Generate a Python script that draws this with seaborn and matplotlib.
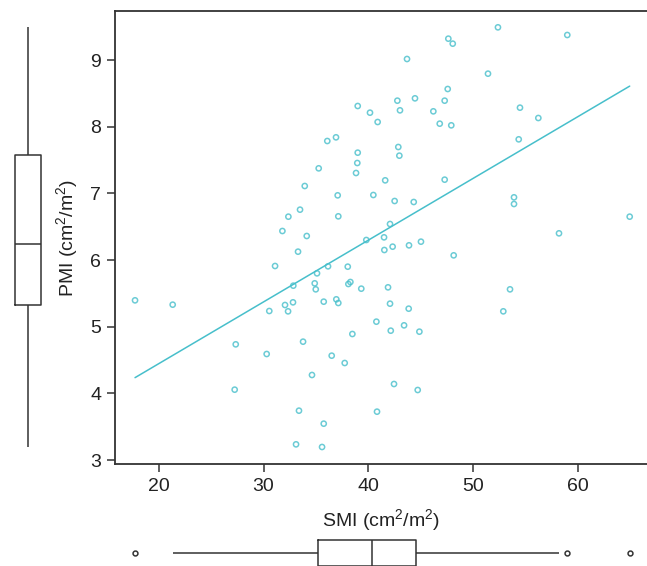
import numpy as np
import pandas as pd
import matplotlib
matplotlib.use("Agg")
import matplotlib.pyplot as plt
import seaborn as sns

smi = [38.98, 40.15, 40.88, 36.08, 36.91, 38.98, 38.94, 38.82, 35.26, 41.6,
       33.93, 37.07, 40.47, 33.48, 32.37, 37.13, 31.8, 34.12, 52.35, 47.62,
       48.04, 58.96, 43.68, 51.4, 47.56, 42.76, 44.44, 47.27, 43.01, 46.19,
       54.45, 56.2, 46.8, 47.9, 54.33, 42.85, 42.95, 47.27, 42.5, 44.32,
       53.88, 53.88, 42.06, 64.91, 58.17, 41.49, 33.29, 31.1, 39.8, 41.52,
       35.1, 36.15, 38.03, 34.88, 34.98, 32.84, 38.09, 38.28, 39.32, 17.75,
       21.34, 30.55, 32.05, 32.34, 32.81, 35.74, 36.94, 37.13, 40.76, 38.47,
       27.35, 33.77, 30.3, 36.5, 37.74, 34.62, 27.25, 33.38, 40.82, 35.74,
       33.1, 35.58, 42.31, 43.87, 45.01, 48.13, 41.87, 53.5, 42.06, 43.84,
       52.86, 42.13, 43.4, 44.86, 42.44, 44.7]
pmi = [8.31, 8.21, 8.07, 7.785, 7.84, 7.61, 7.455, 7.305, 7.375, 7.195,
       7.11, 6.97, 6.975, 6.755, 6.65, 6.655, 6.435, 6.36, 9.49, 9.32,
       9.245, 9.375, 9.015, 8.795, 8.565, 8.39, 8.425, 8.39, 8.245, 8.23,
       8.285, 8.13, 8.045, 8.02, 7.81, 7.695, 7.565, 7.205, 6.885, 6.87,
       6.94, 6.84, 6.54, 6.65, 6.4, 6.34, 6.125, 5.91, 6.3, 6.15,
       5.8, 5.905, 5.9, 5.65, 5.56, 5.615, 5.64, 5.67, 5.57, 5.395,
       5.33, 5.235, 5.325, 5.23, 5.365, 5.375, 5.41, 5.355, 5.075, 4.89,
       4.735, 4.775, 4.59, 4.565, 4.455, 4.275, 4.055, 3.74, 3.725, 3.545,
       3.235, 3.195, 6.2, 6.22, 6.275, 6.07, 5.59, 5.56, 5.345, 5.27,
       5.23, 4.94, 5.02, 4.925, 4.14, 4.05]

x_ticks = [20, 30, 40, 50, 60]
y_ticks = [3, 4, 5, 6, 7, 8, 9]
x_label = "SMI (cm$^2$/m$^2$)"
y_label = "PMI (cm$^2$/m$^2$)"

df = pd.DataFrame({"SMI": smi, "PMI": pmi})

sns.set_style("ticks")
plt.rcParams["font.family"] = ["Liberation Sans", "DejaVu Sans"]
plt.rcParams["mathtext.fontset"] = "custom"
plt.rcParams["mathtext.rm"] = "Liberation Sans"
plt.rcParams["mathtext.it"] = "Liberation Sans:italic"
plt.rcParams["mathtext.bf"] = "Liberation Sans:bold"

teal = "#47BFCB"
dark = "#333333"
txt = "#222222"

W, H = 647, 566
fig = plt.figure(figsize=(W / 100, H / 100), dpi=100)

def rect(l, t, r, b):
    return [l / W, 1 - b / H, (r - l) / W, (b - t) / H]

ax = fig.add_axes(rect(115, 11, 647, 464))
sns.regplot(data=df, x="SMI", y="PMI", ax=ax, ci=None, color=teal,
            scatter_kws={"facecolors": "none", "edgecolors": teal, "s": 14,
                         "linewidths": 1.1},
            line_kws={"linewidth": 1.1})
ax.set_xlim(15.84, 66.56)
ax.set_ylim(2.94, 9.735)
ax.set_xticks(x_ticks)
ax.set_yticks(y_ticks)
ax.tick_params(direction="out", length=6, width=1.1, colors=dark,
               labelsize=14, labelcolor=txt, pad=4)
for s in ["left", "bottom", "top"]:
    ax.spines[s].set_color(dark)
    ax.spines[s].set_linewidth(1.3)
ax.spines["right"].set_visible(False)
ax.set_xlabel(x_label, fontsize=14, color=txt, labelpad=9)
ax.set_ylabel(y_label, fontsize=14, color=txt, labelpad=7)

box_kw = dict(showcaps=False, fill=False, color=dark, linewidth=1.1,
              flierprops={"marker": "o", "markersize": 3.5,
                          "markerfacecolor": "white",
                          "markeredgecolor": dark, "markeredgewidth": 1.1})

axl = fig.add_axes(rect(10, 11, 46, 464))
sns.boxplot(y=pmi, ax=axl, width=0.72, **box_kw)
axl.set_ylim(2.94, 9.735)
axl.set_xlim(-0.5, 0.5)
axl.axis("off")

axb = fig.add_axes(rect(115, 535, 647, 571))
sns.boxplot(x=smi, ax=axb, width=0.72, **box_kw)
axb.set_xlim(15.84, 66.56)
axb.set_ylim(0.5, -0.5)
axb.axis("off")

fig.savefig("out.png", dpi=100)
